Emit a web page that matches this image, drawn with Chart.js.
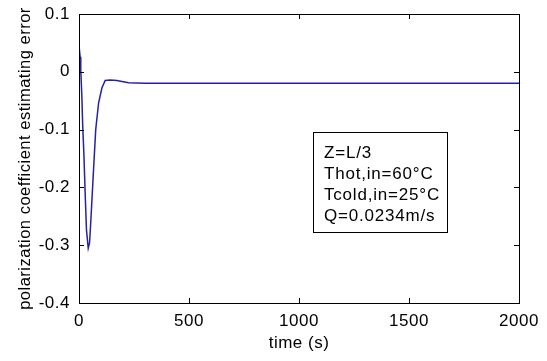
<!DOCTYPE html>
<html>
<head>
<meta charset="utf-8">
<script src="https://cdn.jsdelivr.net/npm/chart.js@4/dist/chart.umd.min.js"></script>
<style>
  html, body { margin: 0; padding: 0; background: #fff; }
  #wrap { width: 547px; height: 361px; position: relative; }
</style>
</head>
<body>
<div id="wrap"><canvas id="errChart"></canvas></div>
<script>
// data
const timeS = [0, 1, 5, 8, 13, 17, 22, 28, 34, 42, 48, 54, 66, 76, 89, 104, 119, 142, 172, 225, 300, 500, 1000, 1500, 2000];
const errValues = [0.046, 0.046, 0.026, 0.003, -0.043, -0.095, -0.14, -0.21, -0.274, -0.305, -0.296, -0.256, -0.17, -0.1, -0.054, -0.028, -0.015, -0.014, -0.015, -0.019, -0.02, -0.02, -0.02, -0.02, -0.02];

const xTicks = [0, 500, 1000, 1500, 2000];
const xTickLabels = ['0', '500', '1000', '1500', '2000'];
const yTicks = [0.1, 0, -0.1, -0.2, -0.3, -0.4];
const yTickLabels = ['0.1', '0', '-0.1', '-0.2', '-0.3', '-0.4'];

const noteLines = ['Z=L/3', 'Thot,in=60°C', 'Tcold,in=25°C', 'Q=0.0234m/s'];

const FONT = "'Liberation Sans', Arial, sans-serif";

// MATLAB-style frame: box round the axes with inward ticks on all four sides
const framePlugin = {
    id: 'frame',
    beforeDraw(chart) {
        chart.ctx.letterSpacing = '0.5px';
    },
    afterDatasetsDraw(chart) {
        const { ctx, chartArea: a, scales } = chart;
        const tick = 5;
        ctx.save();
        ctx.strokeStyle = '#000';
        ctx.lineWidth = 1;
        ctx.beginPath();
        xTicks.forEach(v => {
            const px = Math.round(scales.x.getPixelForValue(v)) + 0.5;
            ctx.moveTo(px, a.bottom); ctx.lineTo(px, a.bottom - tick);
            ctx.moveTo(px, a.top); ctx.lineTo(px, a.top + tick);
        });
        yTicks.forEach(v => {
            const py = Math.round(scales.y.getPixelForValue(v)) + 0.5;
            ctx.moveTo(a.left, py); ctx.lineTo(a.left + tick, py);
            ctx.moveTo(a.right, py); ctx.lineTo(a.right - tick, py);
        });
        ctx.stroke();
        ctx.strokeRect(Math.round(a.left) + 0.5, Math.round(a.top) + 0.5,
            Math.round(a.right - a.left), Math.round(a.bottom - a.top));

        // annotation box
        const bx = Math.round(scales.x.getPixelForValue(1063)) + 0.5;
        const bx2 = Math.round(scales.x.getPixelForValue(1673)) + 0.5;
        const by = Math.round(scales.y.getPixelForValue(-0.1035)) + 0.5;
        const by2 = Math.round(scales.y.getPixelForValue(-0.278)) + 0.5;
        ctx.strokeRect(bx, by, bx2 - bx, by2 - by);
        ctx.fillStyle = '#000';
        ctx.font = '17px ' + FONT;
        ctx.letterSpacing = '0.8px';
        ctx.textBaseline = 'middle';
        ctx.textAlign = 'left';
        noteLines.forEach((t, i) => {
            ctx.fillText(t, bx + 10.5, by + 20.5 + i * 21);
        });
        ctx.restore();
    }
};

new Chart(document.getElementById('errChart'), {
    type: 'scatter',
    data: {
        datasets: [{
            data: timeS.map((t, i) => ({ x: t, y: errValues[i] })),
            showLine: true,
            borderColor: '#2323a6',
            borderWidth: 1.5,
            pointRadius: 0,
            tension: 0
        }]
    },
    options: {
        responsive: true,
        maintainAspectRatio: false,
        animation: false,
        layout: { padding: { left: 0, top: 14, right: 28, bottom: 0 } },
        plugins: { legend: { display: false }, tooltip: { enabled: false } },
        scales: {
            x: {
                type: 'linear',
                min: 0, max: 2000,
                afterFit: s => { s.height = 58; s.paddingLeft = 0; s.paddingRight = 0; },
                afterBuildTicks: s => { s.ticks = xTicks.map(v => ({ value: v })); },
                grid: { display: false, drawTicks: false },
                border: { display: false },
                ticks: {
                    padding: 8,
                    color: '#000',
                    font: { family: FONT, size: 17 },
                    maxRotation: 0,
                    callback: v => xTickLabels[xTicks.indexOf(v)]
                },
                title: {
                    display: true,
                    text: 'time (s)',
                    color: '#000',
                    font: { family: FONT, size: 17 },
                    padding: { top: 0, bottom: 7 }
                }
            },
            y: {
                min: -0.4, max: 0.1,
                afterFit: s => { s.width = 79; s.paddingTop = 0; s.paddingBottom = 0; },
                afterBuildTicks: s => { s.ticks = yTicks.map(v => ({ value: v })); },
                grid: { display: false, drawTicks: false },
                border: { display: false },
                ticks: {
                    padding: 9,
                    color: '#000',
                    font: { family: FONT, size: 17 },
                    callback: v => yTickLabels[yTicks.findIndex(t => Math.abs(t - v) < 1e-9)]
                },
                title: {
                    display: true,
                    text: 'polarization coefficient estimating error',
                    color: '#000',
                    font: { family: FONT, size: 16.5 },
                    padding: { top: 16, bottom: 0 }
                }
            }
        }
    },
    plugins: [framePlugin]
});
</script>
</body>
</html>
